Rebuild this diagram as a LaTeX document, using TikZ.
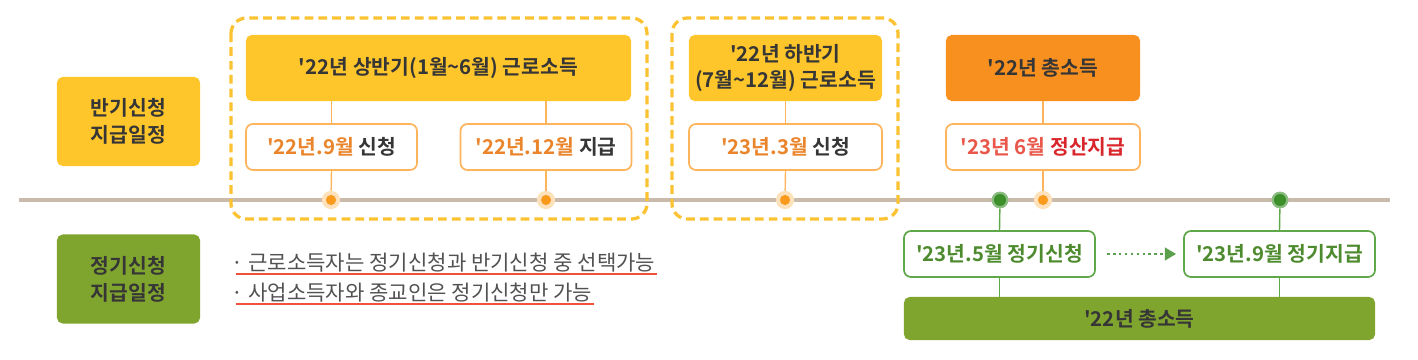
\documentclass[tikz,border=0pt]{standalone}
\usepackage{fontspec}
\newfontfamily\krfont{Noto Sans CJK KR}[BoldFont={Noto Sans CJK KR Bold}]
\usepackage{xcolor}
\usetikzlibrary{arrows.meta, positioning, calc}
\definecolor{Half_Yellow}{HTML}{FFC62B}
\definecolor{Half_Dash}{HTML}{FBC231}
\definecolor{Half_Line}{HTML}{FDB45C}
\definecolor{Half_Dot}{HTML}{F99A1C}
\definecolor{Half_Date}{HTML}{EA852C}
\definecolor{Total_Orange}{HTML}{F8901F}
\definecolor{Total_Red}{HTML}{D8262C}
\definecolor{Total_Date}{HTML}{E9584A}
\definecolor{Reg_Green}{HTML}{80A52F}
\definecolor{Reg_Line}{HTML}{5FA84A}
\definecolor{Reg_Dot}{HTML}{3E8F2C}
\definecolor{Reg_Date}{HTML}{4E8B2E}
\definecolor{Time_Tan}{HTML}{C9BAAB}
\definecolor{Note_Red}{HTML}{F0513A}
\definecolor{Dark_Text}{HTML}{363636}

\begin{document}
\begin{tikzpicture}[x=0.025cm, y=-0.025cm,
    font=\krfont\bfseries\fontsize{14.5}{19}\selectfont, text=Dark_Text,
    labelbox/.style={fill=#1, rounded corners=4pt, minimum width=3.575cm, minimum height=2.225cm, align=center, inner sep=0pt},
    topbox/.style={fill=#1, rounded corners=4pt, minimum height=1.65cm, align=center, inner sep=0pt},
    subbox/.style={draw=#1, line width=1.2pt, fill=white, rounded corners=5pt, minimum height=1.15cm, inner sep=0pt},
    halfline/.style={Half_Line, line width=1pt},
    regline/.style={Reg_Line, line width=1pt},
    halfdot/.style={circle, fill=Half_Dot!30, inner sep=0pt, minimum size=13pt,
      path picture={\fill[Half_Dot] (path picture bounding box.center) circle (3.6pt);}},
    regdot/.style={circle, fill=Reg_Dot!60, inner sep=0pt, minimum size=12pt,
      path picture={\fill[Reg_Dot] (path picture bounding box.center) circle (4.3pt);}},
    groupbox/.style={draw=Half_Dash, line width=2.3pt, dash pattern=on 6.2pt off 3.6pt, rounded corners=11pt},
    note/.style={anchor=west, font=\krfont\fontsize{15}{19}\selectfont, text=black!68, inner sep=1pt}]
  \useasboundingbox (0,0) rectangle (1418,360);

  % timeline
  \coordinate (tl_start) at (19,200);
  \coordinate (tl_end) at (1390,200);
  \draw[Time_Tan, line width=2.2pt] (tl_start) -- (tl_end);

  % dashed groups
  \draw[groupbox] (231,18) rectangle (647,219);
  \draw[groupbox] (672,18) rectangle (898,219);

  % left labels
  \node[labelbox=Half_Yellow] (half_label) at (128.5,121.5) {반기신청\\지급일정};
  \node[labelbox=Reg_Green] (reg_label) at (128.5,279) {정기신청\\지급일정};

  % first half
  \node[topbox=Half_Yellow, minimum width=9.625cm] (first_half) at (438.5,68) {'22년 상반기(1월\textasciitilde6월) 근로소득};
  \node[subbox=Half_Line, minimum width=4.275cm] (first_apply) at (331.5,147) {\textcolor{Half_Date}{'22년.9월} 신청};
  \node[subbox=Half_Line, minimum width=4.275cm] (first_pay) at (546,147) {\textcolor{Half_Date}{'22년.12월} 지급};

  % second half
  \node[topbox=Half_Yellow, minimum width=4.825cm] (second_half) at (785.5,68) {'22년 하반기\\(7월\textasciitilde12월) 근로소득};
  \node[subbox=Half_Line, minimum width=4.825cm] (second_apply) at (785.5,147) {\textcolor{Half_Date}{'23년.3월} 신청};

  % total income
  \node[topbox=Total_Orange, minimum width=4.85cm] (total) at (1043,68) {'22년 총소득};
  \node[subbox=Half_Line, minimum width=4.85cm] (total_pay) at (1043,147) {\textcolor{Total_Date}{'23년 6월} \textcolor{Total_Red}{정산지급}};

  % regular schedule
  \node[subbox=Reg_Line, minimum width=4.775cm, text=Reg_Date] (reg_apply) at (999.5,254) {'23년.5월 정기신청};
  \node[subbox=Reg_Line, minimum width=4.775cm, text=Reg_Date] (reg_pay) at (1279.5,254) {'23년.9월 정기지급};
  \node[fill=Reg_Green, rounded corners=4pt, minimum width=11.775cm, minimum height=1.075cm, inner sep=0pt] (reg_total) at (1139.5,318.5) {'22년 총소득};

  % dots on the timeline
  \foreach \name/\x in {d_first_apply/331, d_first_pay/546, d_second_apply/785, d_total_pay/1043}
    \node[halfdot] (\name) at (\x,200) {};
  \foreach \name/\x in {d_reg_apply/1000, d_reg_pay/1280}
    \node[regdot] (\name) at (\x,200) {};

  % stems
  \draw[halfline] (first_apply.north |- first_half.south) -- (first_apply.north);
  \draw[halfline] (first_pay.north |- first_half.south) -- (first_pay.north);
  \draw[halfline] (second_half.south) -- (second_apply.north);
  \draw[halfline] (total.south) -- (total_pay.north);
  \draw[halfline] (first_apply.south) -- (d_first_apply);
  \draw[halfline] (first_pay.south) -- (d_first_pay);
  \draw[halfline] (second_apply.south) -- (d_second_apply);
  \draw[halfline] (total_pay.south) -- (d_total_pay);
  \draw[regline] (d_reg_apply) -- (reg_apply.north);
  \draw[regline] (d_reg_pay) -- (reg_pay.north);
  \draw[regline] (reg_apply.south) -- (reg_apply.south |- reg_total.north);
  \draw[regline] (reg_pay.south) -- (reg_pay.south |- reg_total.north);
  \draw[Reg_Dot!85, line width=1.6pt, dash pattern=on 1.8pt off 2.4pt, -{Triangle[length=8pt, width=9pt]}]
    ([xshift=8pt]reg_apply.east) -- ([xshift=-5pt]reg_pay.west);

  % notes
  \node[note] (note_one) at (230,263) {· 근로소득자는 정기신청과 반기신청 중 선택가능};
  \node[note] (note_two) at (230,293) {· 사업소득자와 종교인은 정기신청만 가능};
  \draw[Note_Red, line width=1.3pt] ([xshift=4pt]note_one.south west) -- (note_one.south east);
  \draw[Note_Red, line width=1.3pt] ([xshift=4pt]note_two.south west) -- (note_two.south east);
\end{tikzpicture}
\end{document}
